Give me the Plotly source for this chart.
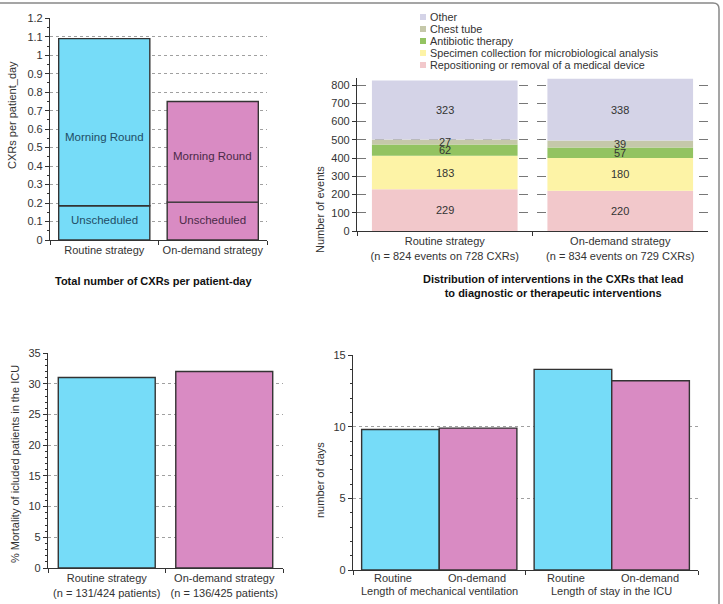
import plotly.graph_objects as go
import numpy as np

W, H = 723, 604
FONT = "Liberation Sans, Arial, sans-serif"

# ---------------- data ----------------
# Panel 1: CXRs per patient-day
p1_categories = ["Routine strategy", "On-demand strategy"]
p1_unscheduled = [0.185, 0.205]
p1_total = [1.09, 0.75]

# Panel 2: distribution of interventions
p2_categories = ["Routine strategy<br>(n = 824 events on 728 CXRs)",
                 "On-demand strategy<br>(n = 834 events on 729 CXRs)"]
p2_series = ["Repositioning or removal of a medical device",
             "Specimen collection for microbiological analysis",
             "Antibiotic therapy", "Chest tube", "Other"]
p2_repositioning = [229, 220]
p2_specimen = [183, 180]
p2_antibiotic = [62, 57]
p2_chest_tube = [27, 39]
p2_other = [323, 338]

# Panel 3: mortality
p3_categories = ["Routine strategy<br>(n = 131/424 patients)",
                 "On-demand strategy<br>(n = 136/425 patients)"]
p3_mortality = [31, 32]

# Panel 4: length of ventilation / stay
p4_categories = ["Length of mechanical ventilation", "Length of stay in the ICU"]
p4_routine = [9.8, 14.0]
p4_on_demand = [9.9, 13.2]

# ---------------- styles ----------------
CYAN = "#76dcf8"
PINK = "#d98bc3"
EDGE = "#333333"
seg_colors = ["#f2c8cb", "#fdf3a6", "#93c361", "#c5c8a9", "#d4d3e7"]


def px(x):
    return x / W


def py(y):
    return 1 - y / H


fig = go.Figure()

# Panel 1 stacked bars via base
p1_morning = list(np.array(p1_total) - np.array(p1_unscheduled))
fig.add_trace(go.Bar(x=p1_categories, y=p1_unscheduled, width=0.84,
                     marker=dict(color=[CYAN, PINK], line=dict(color=EDGE, width=1.4)),
                     xaxis="x", yaxis="y", showlegend=False, name="Unscheduled"))
fig.add_trace(go.Bar(x=p1_categories, y=p1_morning, base=p1_unscheduled, width=0.84,
                     marker=dict(color=[CYAN, PINK], line=dict(color=EDGE, width=1.4)),
                     xaxis="x", yaxis="y", showlegend=False, name="Morning Round"))

# Panel 2 stacked bars via base
p2_values = [p2_repositioning, p2_specimen, p2_antibiotic, p2_chest_tube, p2_other]
base = np.zeros(2)
annotations = []
for name, vals, col in zip(p2_series, p2_values, seg_colors):
    vals = np.array(vals)
    fig.add_trace(go.Bar(x=p2_categories, y=vals, base=base.copy(), width=0.83,
                         marker=dict(color=col, line=dict(width=0)),
                         xaxis="x2", yaxis="y2", showlegend=False, name=name))
    for i, c in enumerate(p2_categories):
        annotations.append(dict(x=c, y=base[i] + vals[i] / 2, xref="x2", yref="y2",
                                text=str(int(vals[i])), showarrow=False,
                                xanchor="center", yanchor="middle",
                                font=dict(size=11, color="#333", family=FONT)))
    base = base + vals

# Panel 3
fig.add_trace(go.Bar(x=p3_categories, y=p3_mortality, width=0.825,
                     marker=dict(color=[CYAN, PINK], line=dict(color=EDGE, width=1.4)),
                     xaxis="x3", yaxis="y3", showlegend=False))

# Panel 4 grouped bars via offset
fig.add_trace(go.Bar(x=p4_categories, y=p4_routine, width=0.45, offset=-0.45,
                     marker=dict(color=CYAN, line=dict(color=EDGE, width=1.4)),
                     xaxis="x4", yaxis="y4", showlegend=False, name="Routine"))
fig.add_trace(go.Bar(x=p4_categories, y=p4_on_demand, width=0.45, offset=0,
                     marker=dict(color=PINK, line=dict(color=EDGE, width=1.4)),
                     xaxis="x4", yaxis="y4", showlegend=False, name="On-demand"))

tickfont = dict(size=11, color="#333", family=FONT)


def yax(domain, rng, dtick, minor_dtick, griddash, gridcolor):
    d = dict(domain=domain, range=rng, dtick=dtick, showline=True, linecolor=EDGE,
             linewidth=1.2, ticks="outside", ticklen=4, tickcolor=EDGE,
             showgrid=True, gridcolor=gridcolor, griddash=griddash, gridwidth=1,
             zeroline=False, tickfont=tickfont, fixedrange=True, automargin=False)
    if minor_dtick:
        d["minor"] = dict(dtick=minor_dtick, ticks="outside", ticklen=2,
                          tickcolor=EDGE, showgrid=False)
    return d


def xax(domain, anchor):
    return dict(domain=domain, anchor=anchor, type="category", showline=True,
                linecolor=EDGE, linewidth=1.2, ticks="outside", ticklen=4,
                tickcolor=EDGE, tickson="boundaries", showgrid=False, tickangle=0,
                tickfont=tickfont, fixedrange=True, automargin=False)


layout = dict(
    width=W, height=H, margin=dict(l=0, r=0, t=0, b=0),
    paper_bgcolor="white", plot_bgcolor="white", barmode="overlay",
    font=dict(family=FONT, size=11, color="#333"),
    xaxis=xax([px(50), px(267)], "y"),
    yaxis=yax([py(240), py(18.3)], [0, 1.2], 0.1, 0.05, "dot", "#a0a0a0"),
    xaxis2=xax([px(357), px(708)], "y2"),
    yaxis2=yax([py(231), py(77.7)], [0, 840], 100, None, "dash", "#777"),
    xaxis3=xax([px(48), px(283)], "y3"),
    yaxis3=yax([py(568), py(353)], [0, 35], 5, 1, "dot", "#a0a0a0"),
    xaxis4=xax([px(353), px(698)], "y4"),
    yaxis4=yax([py(570), py(355)], [0, 15], 5, 1, "dot", "#a0a0a0"),
)
layout["yaxis"]["anchor"] = "x"
layout["yaxis2"]["anchor"] = "x2"
layout["yaxis3"]["anchor"] = "x3"
layout["yaxis4"]["anchor"] = "x4"
layout["xaxis4"]["showticklabels"] = False
layout["yaxis"]["tickformat"] = ".1~f"

# Panel 1 in-bar labels
p1_label_colors = ["#1f4d66", "#4a2a48"]
morning_y = [0.56, 0.455]
for i, c in enumerate(p1_categories):
    annotations.append(dict(x=c, y=morning_y[i], xref="x", yref="y", text="Morning Round",
                            showarrow=False, xanchor="center", yanchor="middle",
                            font=dict(size=11.5, color=p1_label_colors[i], family=FONT)))
    annotations.append(dict(x=c, y=0.108, xref="x", yref="y", text="Unscheduled",
                            showarrow=False, xanchor="center", yanchor="middle",
                            font=dict(size=11.5, color=p1_label_colors[i], family=FONT)))

# Panel 4 x labels
for c in p4_categories:
    annotations.append(dict(x=c, y=py(578), xref="x4", yref="paper", text="Routine", xshift=-46,
                            showarrow=False, xanchor="center", yanchor="middle", font=tickfont))
    annotations.append(dict(x=c, y=py(578), xref="x4", yref="paper", text="On-demand", xshift=38,
                            showarrow=False, xanchor="center", yanchor="middle", font=tickfont))
    annotations.append(dict(x=c, y=py(591), xref="x4", yref="paper", text=c,
                            showarrow=False, xanchor="center", yanchor="middle", font=tickfont))

# axis titles (rotated)
for text, x, y in [("CXRs per patient_day", 12, 115),
                   ("Number of events", 320, 210),
                   ("% Mortality of icluded patients in the ICU", 15, 464),
                   ("number of days", 320, 480)]:
    annotations.append(dict(x=px(x), y=py(y), xref="paper", yref="paper", text=text,
                            textangle=-90, showarrow=False, xanchor="center", yanchor="middle",
                            font=tickfont))

# panel titles
bold = dict(size=11, color="#111", family=FONT)
annotations.append(dict(x=px(153), y=py(281), xref="paper", yref="paper",
                        text="<b>Total number of CXRs per patient-day</b>",
                        showarrow=False, xanchor="center", yanchor="middle", font=bold))
annotations.append(dict(x=px(553), y=py(286), xref="paper", yref="paper",
                        text="<b>Distribution of interventions in the CXRs that lead<br>to diagnostic or therapeutic interventions</b>",
                        showarrow=False, xanchor="center", yanchor="middle", font=bold))

# manual legend (reverse stack order)
shapes = []
leg_rows = [17, 29, 41, 53, 65]
for row, name, col in zip(leg_rows, p2_series[::-1], seg_colors[::-1]):
    shapes.append(dict(type="rect", xref="paper", yref="paper",
                       x0=px(420), x1=px(426), y0=py(row + 3), y1=py(row - 3),
                       fillcolor=col, line=dict(width=0)))
    annotations.append(dict(x=px(428), y=py(row), xref="paper", yref="paper", text=name,
                            xanchor="left", yanchor="middle", showarrow=False,
                            font=dict(size=10.8, color="#333", family=FONT)))

# outer border
path = f"M 0,{py(3)} L {px(713)},{py(3)} Q {px(719)},{py(3)} {px(719)},{py(9)} L {px(719)},0"
shapes.append(dict(type="path", xref="paper", yref="paper", path=path,
                   line=dict(color="#888", width=1.5)))

layout["annotations"] = annotations
layout["shapes"] = shapes
fig.update_layout(**layout)
fig.write_html("out.html")
